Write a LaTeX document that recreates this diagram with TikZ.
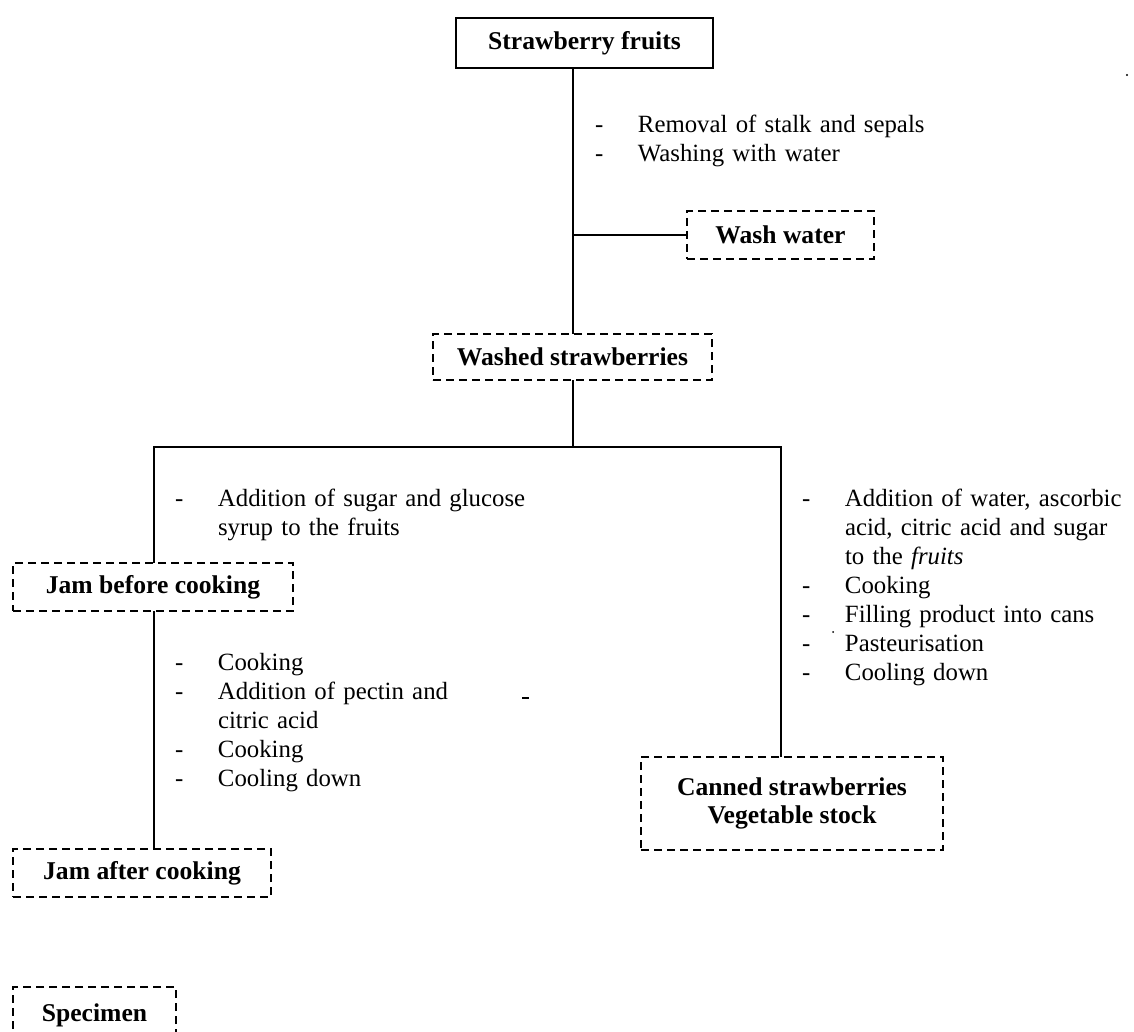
\documentclass[tikz,border=0pt]{standalone}
\usepackage{fontspec}
\setmainfont{Liberation Serif}
\newcommand\dashitem[1]{\makebox[21.5pt][l]{-}#1\\}
\newcommand\contitem[1]{\hspace*{21.5pt}#1\\}
\begin{document}
\begin{tikzpicture}[x=0.5pt,y=-0.5pt,
  every node/.style={inner sep=0pt,outer sep=0pt},
  lbl/.style={font=\fontsize{12.8}{14.2}\selectfont\bfseries,align=center},
  solidbox/.style={lbl,draw,line width=1pt},
  dashbox/.style={lbl,draw,line width=1.1pt,dash pattern=on 4pt off 2.5pt},
  steps/.style={font=\fontsize{12.4}{14.5}\selectfont,anchor=base west,text width=#1,align=left},
  conn/.style={line width=1pt}]
\useasboundingbox (0,0) rectangle (1134,1032);
\clip (0,0) rectangle (1134,1032);
% boxes
\node[solidbox,minimum width=128.5pt,minimum height=25pt] (sf) at (584.5,43) {Strawberry fruits};
\node[dashbox,minimum width=93.5pt,minimum height=24pt] (ww) at (780.5,235) {Wash water};
\node[dashbox,minimum width=139.5pt,minimum height=23pt] (ws) at (572.5,357) {Washed strawberries};
\node[dashbox,minimum width=140pt,minimum height=24pt] (jbc) at (153,587) {Jam before cooking};
\node[dashbox,minimum width=129pt,minimum height=24pt] (jac) at (142,873) {Jam after cooking};
\node[dashbox,minimum width=151pt,minimum height=46.5pt] (can) at (792,803.5) {Canned strawberries\\Vegetable stock};
\node[dashbox,minimum width=81.5pt,minimum height=28pt] (spec) at (94.5,1015) {Specimen};
% step lists
\node[steps=170pt] (s1) at (595,133) {\dashitem{Removal of stalk and sepals}\dashitem{Washing with water}};
\node[steps=190pt] (s2) at (175,506) {\dashitem{Addition of sugar and glucose}\contitem{syrup to the fruits}};
\node[steps=170pt] (s3) at (175,670) {\dashitem{Cooking}\dashitem{Addition of pectin and}\contitem{citric acid}\dashitem{Cooking}\dashitem{Cooling down}};
\node[steps=170pt] (s4) at (802,506) {\dashitem{Addition of water, ascorbic}\contitem{acid, citric acid and sugar}\contitem{to the \textit{fruits}}\dashitem{Cooking}\dashitem{Filling product into cans}\dashitem{Pasteurisation}\dashitem{Cooling down}};
% connectors
\coordinate (mx) at (573,0);
\coordinate (lx) at (154,447);
\coordinate (rx) at (781,447);
\draw[conn] (sf.south -| mx) -- (ws.north -| mx);
\draw[conn] (mx |- ww.west) -- (ww.west);
\draw[conn] (ws.south -| mx) -- (mx |- lx);
\draw[conn] (jbc.north -| lx) -- (lx) -- (rx) -- (can.north -| rx);
\draw[conn] (jbc.south -| lx) -- (jac.north -| lx);
% scan specks
\fill (1127,75) circle (1.2);
\fill (833,632) circle (1);
\draw[line width=1pt] (522,698) -- (529,698);
\end{tikzpicture}
\end{document}
